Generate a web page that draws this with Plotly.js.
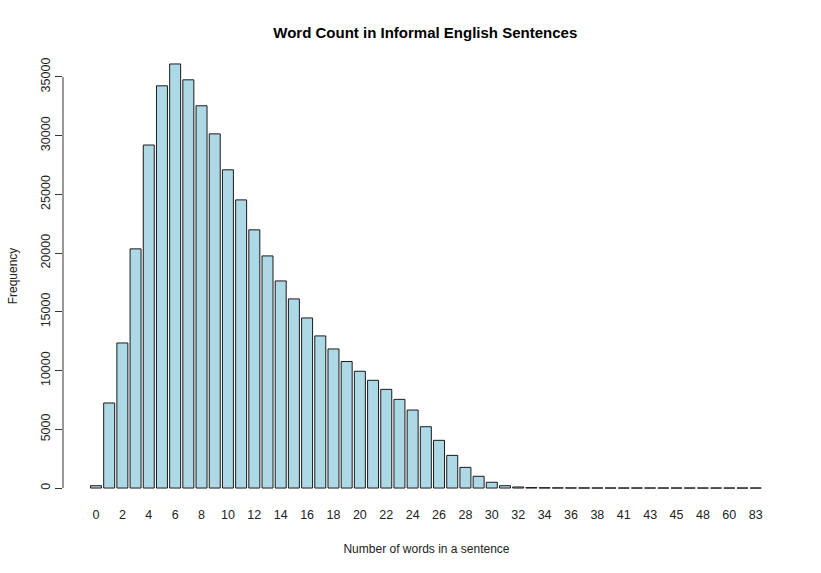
<!DOCTYPE html>
<html>
<head>
<meta charset="utf-8">
<script src="https://cdn.plot.ly/plotly-3.0.1.min.js"></script>
<style>
  body { margin: 0; background: #fff; }
  #chart { width: 821px; height: 573px; }
</style>
</head>
<body>
<div id="chart"></div>
<script>
// word counts (x categories) and how many sentences had them
var wordCounts = ['0','1','2','3','4','5','6','7','8','9','10','11','12','13','14','15','16','17','18','19',
  '20','21','22','23','24','25','26','27','28','29','30','31','32','33','34','35','36','37','38','39',
  '41','42','43','44','45','46','48','52','60','69','83'];
var frequency = [200, 7240, 12350, 20360, 29200, 34240, 36100, 34750, 32540, 30150,
  27090, 24530, 21980, 19760, 17630, 16100, 14480, 12950, 11840, 10770,
  9940, 9170, 8400, 7550, 6640, 5220, 4060, 2780, 1760, 1000,
  490, 200, 90, 40, 25, 15, 10, 8, 5, 4,
  3, 3, 2, 2, 2, 1, 1, 1, 1, 1, 1];

// R skips every other label because they would overlap
var shownTicks = wordCounts.filter(function(d, i){ return i % 2 == 0 });
var yTicks = [0, 5000, 10000, 15000, 20000, 25000, 30000, 35000];

var trace = {
  type: 'bar',
  x: wordCounts,
  y: frequency,
  marker: { color: '#ADD8E6', line: { color: '#1a1a1a', width: 1 } },
  hoverinfo: 'x+y'
};

var layout = {
  width: 821,
  height: 573,
  margin: { l: 63, r: 31, t: 47, b: 68 },
  paper_bgcolor: '#fff',
  plot_bgcolor: '#fff',
  font: { family: 'Liberation Sans, Arial, sans-serif', size: 12, color: '#222' },
  title: {
    text: '<b>Word Count in Informal English Sentences</b>',
    font: { size: 15, color: '#000' },
    x: 0.518, xanchor: 'center', y: 0.943, yanchor: 'middle'
  },
  bargap: 0.167,
  showlegend: false,
  xaxis: {
    type: 'category',
    range: [-2.5, 52.6],
    tickvals: shownTicks,
    ticktext: shownTicks,
    showgrid: false, zeroline: false, showline: false,
    ticks: '',
    tickfont: { size: 12.5, color: '#222' },
    title: { text: 'Number of words in a sentence', font: { size: 12, color: '#222' }, standoff: 24 }
  },
  yaxis: {
    range: [-1444, 37544],
    tickvals: yTicks,
    ticktext: yTicks.map(String),
    tickangle: -90,
    ticks: 'outside', ticklen: 7, tickcolor: '#333', tickwidth: 1,
    showgrid: false, zeroline: false, showline: false,
    tickfont: { size: 12.5, color: '#222' },
    title: { text: 'Frequency', font: { size: 12, color: '#222' }, standoff: 18 }
  },
  shapes: [{
    type: 'line', xref: 'paper', yref: 'y',
    x0: 0, x1: 0, y0: 0, y1: 35000,
    line: { color: '#333', width: 1 }
  }]
};

Plotly.newPlot('chart', [trace], layout, { displayModeBar: false, staticPlot: true });
</script>
</body>
</html>
